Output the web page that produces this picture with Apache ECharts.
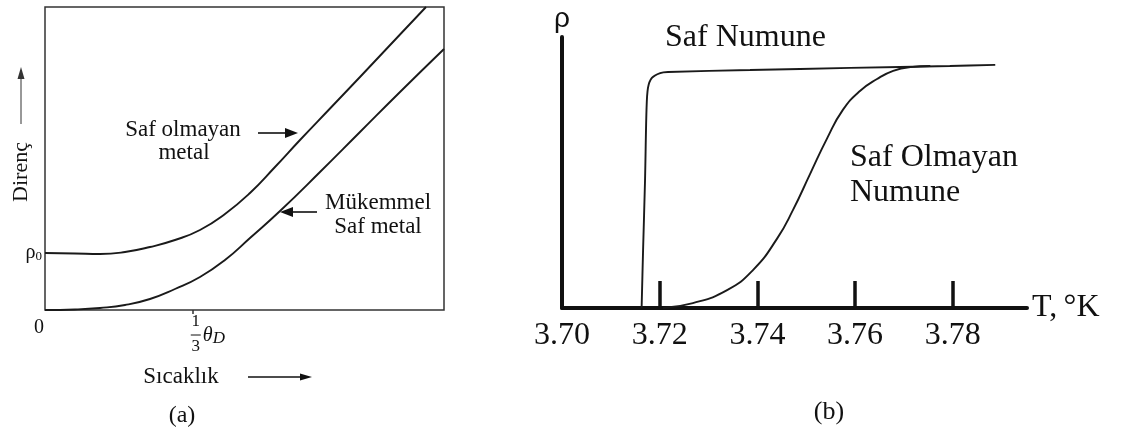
<!DOCTYPE html>
<html><head><meta charset="utf-8">
<script src="https://cdn.jsdelivr.net/npm/echarts@6/dist/echarts.min.js"></script>
<style>html,body{margin:0;padding:0;background:#fff}#c{width:1123px;height:432px}</style>
</head><body><div id="c"></div>
<script>
// ---------- Panel (a): resistance vs temperature (x in units of theta_D) ----------
const aImpureT = [0, 0.0677, 0.1241, 0.1805, 0.2368, 0.2932, 0.3496, 0.4060, 0.4624, 0.5188, 0.5752, 0.6429, 0.7105, 0.8008, 0.8594];
const aImpureR = [0.1881, 0.1865, 0.1848, 0.1914, 0.2079, 0.2310, 0.2640, 0.3168, 0.3861, 0.4719, 0.5611, 0.6650, 0.7690, 0.9092, 1.0];
const aPureT = [0, 0.0677, 0.1241, 0.1805, 0.2368, 0.2932, 0.3496, 0.4060, 0.4624, 0.5301, 0.6203, 0.7105, 0.8008, 0.9];
const aPureR = [0, 0.0017, 0.0066, 0.0165, 0.0363, 0.0693, 0.1089, 0.1650, 0.2376, 0.3267, 0.4554, 0.5875, 0.7195, 0.8614];
const rho0 = 0.188;
const thetaTick = 1 / 3;

// ---------- Panel (b): resistivity near the superconducting transition ----------
const bPureT = [3.7163, 3.7166, 3.7170, 3.7173, 3.7176, 3.7184, 3.7201, 3.7217, 3.7385, 3.7590, 3.7794, 3.7887];
const bPureRho = [0, 0.214, 0.472, 0.731, 0.812, 0.849, 0.867, 0.871, 0.878, 0.886, 0.893, 0.897];
const bImpT = [3.7207, 3.7268, 3.7338, 3.7391, 3.7440, 3.7473, 3.7508, 3.7543, 3.7575, 3.7610, 3.7645, 3.7678, 3.7713, 3.7754];
const bImpRho = [0, 0.018, 0.066, 0.140, 0.255, 0.362, 0.495, 0.627, 0.731, 0.801, 0.845, 0.875, 0.889, 0.893];
const bTickLabels = [3.70, 3.72, 3.74, 3.76, 3.78];
const bTickMarks = [3.72, 3.74, 3.76, 3.78];

const zip = (xs, ys) => xs.map((x, i) => [x, ys[i]]);
const SERIF = '"Liberation Serif", "Times New Roman", serif';
const INK = '#111';

const chart = echarts.init(document.getElementById('c'), null, {renderer: 'canvas'});

const lineSeries = (name, data, xi, smooth) => ({
  name, type: 'line', xAxisIndex: xi, yAxisIndex: xi, data,
  symbol: 'none', showSymbol: false, smooth: smooth, animation: false,
  lineStyle: {color: '#1a1a1a', width: 1.9}
});

chart.setOption({
  animation: false,
  backgroundColor: '#fff',
  grid: [
    {left: 45, top: 7, width: 399, height: 303, show: true, borderColor: '#333', borderWidth: 1.5, backgroundColor: 'transparent', outerBoundsMode: 'none'},
    {left: 562, top: 37, width: 465, height: 271, outerBoundsMode: 'none'}
  ],
  xAxis: [
    {gridIndex: 0, type: 'value', min: 0, max: 0.9,
     axisLine: {show: false}, splitLine: {show: false},
     axisTick: {show: true, customValues: [thetaTick], length: 4, lineStyle: {color: '#333', width: 1.5}},
     axisLabel: {show: true, customValues: [0], formatter: () => '0', fontFamily: SERIF, fontSize: 20, color: INK, margin: 8, padding: [0, 12, 0, 0]}},
    {gridIndex: 1, type: 'value', min: 3.70, max: 3.7952,
     axisLine: {show: true, onZero: false, lineStyle: {color: '#111', width: 4}},
     splitLine: {show: false},
     axisTick: {show: true, inside: true, customValues: bTickMarks, length: 27, lineStyle: {color: '#111', width: 3.5}},
     axisLabel: {show: true, customValues: bTickLabels, formatter: v => Number(v).toFixed(2), fontFamily: SERIF, fontSize: 32, color: INK, margin: 12},
     name: 'T,\u2009°K', nameLocation: 'end', nameGap: 5,
     nameTextStyle: {fontFamily: SERIF, fontSize: 32, color: INK}}
  ],
  yAxis: [
    {gridIndex: 0, type: 'value', min: 0, max: 1,
     axisLine: {show: false}, splitLine: {show: false}, axisTick: {show: false},
     axisLabel: {show: true, customValues: [rho0], margin: 3,
       formatter: () => '{r|ρ}{s|0}',
       rich: {r: {fontFamily: SERIF, fontSize: 20, color: INK}, s: {fontFamily: SERIF, fontSize: 13, color: INK, verticalAlign: 'bottom', padding: [6, 0, 0, 0]}}}},
    {gridIndex: 1, type: 'value', min: 0, max: 1,
     axisLine: {show: true, onZero: false, lineStyle: {color: '#111', width: 4}},
     splitLine: {show: false}, axisTick: {show: false}, axisLabel: {show: false},
     name: 'ρ', nameLocation: 'end', nameGap: 4,
     nameTextStyle: {fontFamily: '"Liberation Sans", Arial, sans-serif', fontSize: 28, color: INK}}
  ],
  series: [
    lineSeries('Saf olmayan metal', zip(aImpureT, aImpureR), 0, 0.5),
    lineSeries('Mükemmel Saf metal', zip(aPureT, aPureR), 0, 0.5),
    lineSeries('Saf Numune', zip(bPureT, bPureRho), 1, 0.3),
    lineSeries('Saf Olmayan Numune', zip(bImpT, bImpRho), 1, 0.5)
  ]
});

function arrow(x1, y1, x2, y2, w, head, hw, color) {
  const dx = x2 - x1, dy = y2 - y1, L = Math.hypot(dx, dy);
  const ux = dx / L, uy = dy / L, px = -uy, py = ux;
  const bx = x2 - ux * head, by = y2 - uy * head;
  return {type: 'group', silent: true, children: [
    {type: 'line', shape: {x1, y1, x2: bx + ux, y2: by + uy}, style: {stroke: color, lineWidth: w}},
    {type: 'polygon', shape: {points: [[x2, y2], [bx + px * hw, by + py * hw], [bx - px * hw, by - py * hw]]}, style: {fill: color}}
  ]};
}
function txt(text, x, y, size, align, extra) {
  return Object.assign({type: 'text', x, y, silent: true,
    style: Object.assign({text, font: size + 'px ' + SERIF, fill: INK, textAlign: align || 'center', textVerticalAlign: 'middle'}, extra || {})});
}

const tx = chart.convertToPixel({xAxisIndex: 0}, thetaTick);

chart.setOption({graphic: [
  // panel (a) annotations
  txt('Saf olmayan', 183, 130, 23),
  txt('metal', 184, 153, 23),
  arrow(258, 133, 298, 133, 1.6, 13, 5, INK),
  txt('Mükemmel', 378, 203, 23),
  txt('Saf metal', 378, 227, 23),
  arrow(317, 212, 280, 212, 1.6, 13, 5, INK),
  Object.assign(txt('Direnç', 0, 0, 22), {x: 21, y: 172, rotation: Math.PI / 2}),
  arrow(21, 124, 21, 67, 1, 12, 3.5, '#333'),
  txt('Sıcaklık', 181, 377, 23),
  arrow(248, 377, 312, 377, 1.4, 12, 3.5, INK),
  txt('(a)', 182, 416, 24),
  // 1/3 theta_D tick label
  txt('1', tx + 3, 322, 17),
  {type: 'line', silent: true, shape: {x1: tx - 2, y1: 335, x2: tx + 8, y2: 335}, style: {stroke: INK, lineWidth: 1}},
  txt('3', tx + 3, 347, 17),
  txt('θ', tx + 15, 336, 20, 'center', {font: 'italic 20px ' + SERIF}),
  txt('D', tx + 26, 339, 17, 'center', {font: 'italic 17px ' + SERIF}),
  // panel (b) annotations
  txt('Saf Numune', 665, 38, 32, 'left'),
  txt('Saf Olmayan', 850, 158, 32, 'left'),
  txt('Numune', 850, 193, 32, 'left'),
  txt('(b)', 829, 412, 26)
]});
</script>
</body></html>
